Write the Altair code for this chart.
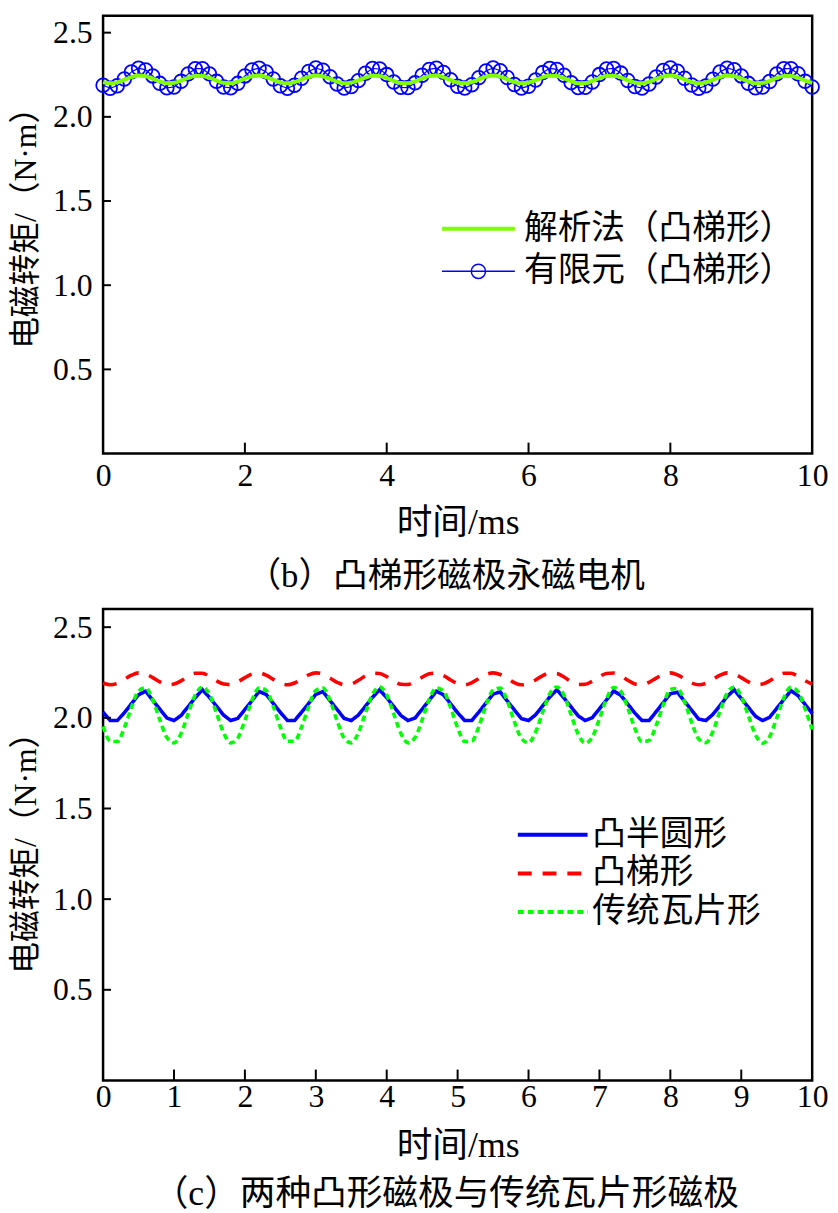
import altair as alt
import pandas as pd

# ---------------- data ----------------
T = [0.0, 0.1, 0.2, 0.3, 0.4, 0.5, 0.6, 0.7, 0.8, 0.9,
     1.0, 1.1, 1.2, 1.3, 1.4, 1.5, 1.6, 1.7, 1.8, 1.9,
     2.0, 2.1, 2.2, 2.3, 2.4, 2.5, 2.6, 2.7, 2.8, 2.9,
     3.0, 3.1, 3.2, 3.3, 3.4, 3.5, 3.6, 3.7, 3.8, 3.9,
     4.0, 4.1, 4.2, 4.3, 4.4, 4.5, 4.6, 4.7, 4.8, 4.9,
     5.0, 5.1, 5.2, 5.3, 5.4, 5.5, 5.6, 5.7, 5.8, 5.9,
     6.0, 6.1, 6.2, 6.3, 6.4, 6.5, 6.6, 6.7, 6.8, 6.9,
     7.0, 7.1, 7.2, 7.3, 7.4, 7.5, 7.6, 7.7, 7.8, 7.9,
     8.0, 8.1, 8.2, 8.3, 8.4, 8.5, 8.6, 8.7, 8.8, 8.9,
     9.0, 9.1, 9.2, 9.3, 9.4, 9.5, 9.6, 9.7, 9.8, 9.9,
     10.0]

# (b) finite element (凸梯形)
FEM = [2.188, 2.170, 2.185, 2.225, 2.267, 2.289, 2.279, 2.243, 2.199, 2.172,
       2.177, 2.211, 2.255, 2.286, 2.286, 2.255, 2.211, 2.177, 2.172, 2.199,
       2.243, 2.279, 2.289, 2.267, 2.225, 2.185, 2.170, 2.188, 2.229, 2.270,
       2.290, 2.277, 2.238, 2.195, 2.171, 2.180, 2.215, 2.259, 2.287, 2.284,
       2.251, 2.207, 2.175, 2.174, 2.202, 2.247, 2.282, 2.289, 2.264, 2.220,
       2.182, 2.171, 2.191, 2.233, 2.273, 2.290, 2.274, 2.234, 2.192, 2.171,
       2.182, 2.219, 2.263, 2.288, 2.282, 2.247, 2.203, 2.174, 2.175, 2.207,
       2.251, 2.284, 2.288, 2.260, 2.216, 2.180, 2.171, 2.195, 2.237, 2.276,
       2.290, 2.271, 2.229, 2.189, 2.170, 2.184, 2.224, 2.267, 2.289, 2.280,
       2.243, 2.199, 2.172, 2.177, 2.210, 2.255, 2.286, 2.286, 2.256, 2.211,
       2.177]

# (b) analytic (凸梯形)
ANA = [2.206, 2.199, 2.205, 2.220, 2.236, 2.245, 2.241, 2.227, 2.210, 2.200,
       2.202, 2.215, 2.232, 2.243, 2.243, 2.232, 2.215, 2.202, 2.200, 2.210,
       2.227, 2.241, 2.245, 2.236, 2.220, 2.205, 2.199, 2.206, 2.222, 2.237,
       2.245, 2.240, 2.225, 2.209, 2.199, 2.203, 2.216, 2.233, 2.244, 2.243,
       2.230, 2.213, 2.201, 2.200, 2.211, 2.228, 2.242, 2.245, 2.235, 2.218,
       2.204, 2.199, 2.207, 2.223, 2.239, 2.245, 2.239, 2.223, 2.207, 2.199,
       2.204, 2.218, 2.235, 2.244, 2.242, 2.229, 2.212, 2.200, 2.201, 2.213,
       2.230, 2.243, 2.244, 2.234, 2.216, 2.203, 2.199, 2.208, 2.225, 2.240,
       2.245, 2.238, 2.222, 2.206, 2.199, 2.205, 2.220, 2.236, 2.245, 2.241,
       2.227, 2.210, 2.200, 2.202, 2.214, 2.231, 2.243, 2.243, 2.232, 2.215,
       2.202]

# (c) 凸半圆形
SEMI = [2.032, 1.985, 1.985, 2.028, 2.078, 2.127, 2.147, 2.097, 2.048, 1.999,
        1.985, 2.013, 2.062, 2.111, 2.155, 2.113, 2.064, 2.015, 1.985, 1.997,
        2.046, 2.095, 2.145, 2.129, 2.080, 2.030, 1.985, 1.985, 2.031, 2.080,
        2.129, 2.145, 2.095, 2.046, 1.997, 1.985, 2.015, 2.064, 2.113, 2.155,
        2.111, 2.062, 2.013, 1.985, 1.999, 2.048, 2.097, 2.147, 2.127, 2.078,
        2.028, 1.985, 1.985, 2.032, 2.082, 2.131, 2.143, 2.093, 2.044, 1.995,
        1.985, 2.017, 2.066, 2.115, 2.155, 2.109, 2.060, 2.011, 1.985, 2.001,
        2.050, 2.099, 2.148, 2.125, 2.076, 2.026, 1.985, 1.985, 2.034, 2.084,
        2.133, 2.141, 2.091, 2.042, 1.993, 1.985, 2.019, 2.068, 2.117, 2.155,
        2.107, 2.058, 2.009, 1.985, 2.003, 2.052, 2.101, 2.150, 2.123, 2.074,
        2.024]

# (c) 凸梯形
TRAP = [2.192, 2.182, 2.190, 2.212, 2.235, 2.248, 2.242, 2.222, 2.198, 2.183,
        2.186, 2.204, 2.229, 2.246, 2.246, 2.229, 2.204, 2.186, 2.183, 2.198,
        2.222, 2.242, 2.248, 2.235, 2.212, 2.190, 2.182, 2.192, 2.214, 2.237,
        2.248, 2.241, 2.219, 2.196, 2.183, 2.187, 2.207, 2.231, 2.246, 2.245,
        2.227, 2.202, 2.185, 2.184, 2.200, 2.224, 2.243, 2.247, 2.233, 2.209,
        2.189, 2.182, 2.194, 2.217, 2.239, 2.248, 2.239, 2.217, 2.194, 2.182,
        2.189, 2.209, 2.233, 2.247, 2.244, 2.225, 2.200, 2.184, 2.185, 2.202,
        2.227, 2.245, 2.247, 2.232, 2.207, 2.187, 2.183, 2.196, 2.219, 2.240,
        2.248, 2.237, 2.215, 2.192, 2.182, 2.190, 2.212, 2.235, 2.248, 2.242,
        2.222, 2.198, 2.183, 2.186, 2.204, 2.229, 2.246, 2.246, 2.229, 2.205,
        2.186]

# (c) 传统瓦片形
TILE = [1.953, 1.872, 1.869, 1.945, 2.058, 2.148, 2.165, 2.100, 1.989, 1.891,
        1.862, 1.914, 2.023, 2.127, 2.170, 2.130, 2.026, 1.917, 1.862, 1.889,
        1.986, 2.097, 2.165, 2.151, 2.063, 1.948, 1.871, 1.871, 1.950, 2.063,
        2.151, 2.165, 2.097, 1.984, 1.888, 1.862, 1.917, 2.027, 2.130, 2.170,
        2.127, 2.021, 1.914, 1.862, 1.891, 1.989, 2.102, 2.165, 2.148, 2.058,
        1.945, 1.869, 1.872, 1.953, 2.068, 2.153, 2.164, 2.093, 1.979, 1.886,
        1.862, 1.922, 2.032, 2.133, 2.170, 2.124, 2.017, 1.910, 1.860, 1.894,
        1.995, 2.105, 2.167, 2.147, 2.054, 1.941, 1.868, 1.876, 1.958, 2.072,
        2.156, 2.162, 2.089, 1.975, 1.883, 1.863, 1.925, 2.037, 2.136, 2.170,
        2.119, 2.012, 1.907, 1.860, 1.897, 1.999, 2.110, 2.168, 2.144, 2.049,
        1.936]

TOP_NAMES = ["解析法（凸梯形）", "有限元（凸梯形）"]
BOT_NAMES = ["凸半圆形", "凸梯形", "传统瓦片形"]

X_TICKS_TOP = [0, 2, 4, 6, 8, 10]
X_TICKS_BOT = [0, 1, 2, 3, 4, 5, 6, 7, 8, 9, 10]
Y_TICKS = [0.5, 1.0, 1.5, 2.0, 2.5]

X_TITLE = "时间/ms"
Y_TITLE = "电磁转矩/（N·m）"
TITLE_B = "（b）凸梯形磁极永磁电机"
TITLE_C = "（c）两种凸形磁极与传统瓦片形磁极"

# ---------------- styling ----------------
FONT = "Liberation Serif, Noto Sans CJK SC"
W = 716
H_TOP = 442
H_BOT = 476
Y_MAX_TOP = 2.6
Y_MAX_BOT = 2.6

top_df = pd.DataFrame({"t": T, "fem": FEM, "ana": ANA})
bot_df = pd.concat([
    pd.DataFrame({"t": T, "v": SEMI, "kind": BOT_NAMES[0]}),
    pd.DataFrame({"t": T, "v": TRAP, "kind": BOT_NAMES[1]}),
    pd.DataFrame({"t": T, "v": TILE, "kind": BOT_NAMES[2]}),
], ignore_index=True)


def xenc(field, ticks, label_pad, title_pad):
    return alt.X(field, type="quantitative",
                 scale=alt.Scale(domain=[0, 10], nice=False, zero=False),
                 axis=alt.Axis(values=ticks, format="d", title=X_TITLE,
                               labelPadding=label_pad, titlePadding=title_pad))


def yenc(field, ymax, title_y):
    kw = {} if title_y is None else {"titleY": title_y}
    return alt.Y(field, type="quantitative",
                 scale=alt.Scale(domain=[0, ymax], nice=False, zero=False),
                 axis=alt.Axis(values=Y_TICKS, format=".1f", title=Y_TITLE, **kw))


def tick_layers(X, Y, xticks, ymax, h):
    inner_x = [v for v in xticks if 0 < v < 10]
    xt = pd.DataFrame({"t": inner_x, "y0": [0.0] * len(inner_x),
                       "y1": [11.0 / h * ymax] * len(inner_x)})
    yt = pd.DataFrame({"v": Y_TICKS, "x0": [0.0] * len(Y_TICKS),
                       "x1": [8.0 / W * 10] * len(Y_TICKS)})
    r1 = alt.Chart(xt).mark_rule(color="black", strokeWidth=2).encode(
        x=X("t"), y=Y("y0"), y2="y1")
    r2 = alt.Chart(yt).mark_rule(color="black", strokeWidth=2).encode(
        y=Y("v"), x=X("x0"), x2="x1")
    return [r1, r2]


# ---------------- top panel (b) ----------------
def XT(f):
    return xenc(f, X_TICKS_TOP, 7, 15)


def YT(f):
    return yenc(f, Y_MAX_TOP, 206)


base_top = alt.Chart(top_df)
fem_line = base_top.mark_line(color="#0000ff", strokeWidth=1.2).encode(x=XT("t"), y=YT("fem"))
fem_pts = base_top.mark_point(shape="circle", filled=False, color="#0000ff",
                              size=190, strokeWidth=1.8, opacity=1).encode(x=XT("t"), y=YT("fem"))
ana_line = base_top.mark_line(color="#80ff00", strokeWidth=4,
                              interpolate="monotone").encode(x=XT("t"), y=YT("ana"))

LINE_PATH = "M-4.6,0H4.6"
LINE_CIRCLE_PATH = "M-4.6,0H4.6M0.9,0A0.9,0.9,0,1,1,-0.9,0A0.9,0.9,0,1,1,0.9,0"
leg_top_df = pd.DataFrame({"series": TOP_NAMES, "t": [0.0, 0.0], "v": [0.0, 0.0]})
top_legend = alt.Legend(title=None, orient="none", legendX=362, legendY=198,
                        labelFont=FONT, labelFontSize=34, labelColor="black",
                        labelLimit=600, labelOffset=29, rowPadding=9,
                        symbolSize=256, symbolOpacity=1, padding=0)
leg_top = alt.Chart(leg_top_df).transform_filter("datum.t > 100").mark_point(
    filled=False, opacity=1).encode(
    x=XT("t"), y=YT("v"),
    color=alt.Color("series:N", scale=alt.Scale(domain=TOP_NAMES, range=["#80ff00", "#0000ff"]),
                    legend=top_legend),
    shape=alt.Shape("series:N", scale=alt.Scale(domain=TOP_NAMES, range=[LINE_PATH, LINE_CIRCLE_PATH]),
                    legend=top_legend),
    strokeWidth=alt.StrokeWidth("series:N", scale=alt.Scale(domain=TOP_NAMES, range=[4, 1.5]),
                                legend=top_legend),
)

top = alt.layer(fem_line, fem_pts, ana_line, leg_top,
                *tick_layers(XT, YT, X_TICKS_TOP, Y_MAX_TOP, H_TOP)).properties(
    width=W, height=H_TOP,
    title=alt.TitleParams(TITLE_B, orient="bottom", font=FONT, fontSize=35,
                          fontWeight="normal", color="black", offset=19, frame="group", dx=-12))


# ---------------- bottom panel (c) ----------------
def XB(f):
    return xenc(f, X_TICKS_BOT, 1, 17)


def YB(f):
    return yenc(f, Y_MAX_BOT, None)


bot_legend = alt.Legend(title=None, orient="none", legendX=437, legendY=211,
                        labelFont=FONT, labelFontSize=34, labelColor="black",
                        labelLimit=600, labelOffset=23, rowPadding=5,
                        symbolSize=256, symbolType="M-4.4,0H4.4",
                        symbolStrokeWidth=4, symbolOpacity=1, padding=0)
color_b = alt.Color("kind:N", scale=alt.Scale(domain=BOT_NAMES, range=["#0000ff", "#ff0000", "#00ff00"]),
                    legend=bot_legend)
dash_b = alt.StrokeDash("kind:N", scale=alt.Scale(domain=BOT_NAMES, range=[[1, 0], [14, 11], [6, 4]]),
                        legend=bot_legend)

bot_layers = []
for name, interp in zip(BOT_NAMES, ["linear", "monotone", "monotone"]):
    bot_layers.append(
        alt.Chart(bot_df).transform_filter(alt.datum.kind == name).mark_line(
            strokeWidth=3.6, interpolate=interp, opacity=1).encode(
            x=XB("t"), y=YB("v"), color=color_b, strokeDash=dash_b))
# draw order: 凸半圆形, 凸梯形, 传统瓦片形 (on top)
bottom = alt.layer(*bot_layers, *tick_layers(XB, YB, X_TICKS_BOT, Y_MAX_BOT, H_BOT)).properties(
    width=W, height=H_BOT,
    title=alt.TitleParams(TITLE_C, orient="bottom", font=FONT, fontSize=36,
                          fontWeight="normal", color="black", offset=14, frame="group", dx=-12))

chart = alt.vconcat(top, bottom, spacing=11).resolve_scale(
    color="independent", shape="independent", strokeWidth="independent",
    strokeDash="independent", x="independent", y="independent"
).resolve_legend(
    color="independent", shape="independent", strokeWidth="independent",
    strokeDash="independent"
).properties(
    padding={"left": 0, "top": 0, "right": 0, "bottom": 0}, background="white"
).configure_view(
    stroke="black", strokeWidth=2.5
).configure_axis(
    labelFont=FONT, labelFontSize=32, labelColor="black",
    titleFont=FONT, titleFontWeight="normal", titleColor="black",
    domain=False, ticks=False, tickSize=0, grid=False,
).configure_axisX(
    titleFontSize=36, labelFlush=False,
).configure_axisY(
    labelPadding=11, titlePadding=10, titleFontSize=32,
)

chart.save("out.html", embed_options={"renderer": "svg", "actions": False})
